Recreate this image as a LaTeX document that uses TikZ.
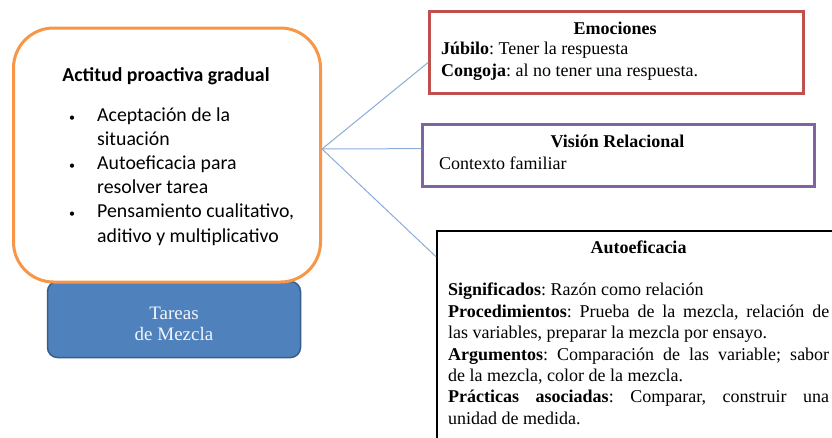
\documentclass[tikz,border=0pt]{standalone}
\usepackage{fontspec}
\setmainfont{Liberation Serif}
\newfontfamily\calibri{Carlito}
\usetikzlibrary{positioning}
\frenchspacing
\definecolor{Naranja}{HTML}{F79646}
\definecolor{Azul}{HTML}{4F81BD}
\definecolor{AzulBorde}{HTML}{385D8A}
\definecolor{Rojo}{HTML}{C0504D}
\definecolor{Morado}{HTML}{8064A2}
\definecolor{Linea}{HTML}{8AACD8}
\definecolor{Claro}{HTML}{F2F5FB}
\newcommand{\punto}{{\fontsize{12}{12}\selectfont\textbullet}}
\tikzset{
  marco/.style={rectangle,draw,line width=2.5pt,fill=white,inner sep=0pt},
  actitud/.style={marco,draw=Naranja,line width=3pt,rounded corners=40pt,minimum width=307pt,minimum height=254pt},
  tarea/.style={rectangle,draw=AzulBorde,line width=1.5pt,fill=Azul,rounded corners=10pt,minimum width=253pt,minimum height=76pt},
  rotulo/.style={text=Claro,font=\fontsize{19}{21}\selectfont,align=center,inner sep=0pt},
  rama/.style={draw=Linea,line width=1pt},
  encabezado/.style={font=\calibri\fontsize{19.8}{24.2}\selectfont\bfseries,inner sep=0pt,anchor=base},
  lista/.style={font=\calibri\fontsize{19.8}{24.2}\selectfont,inner sep=0pt,anchor=north west},
  titulo/.style={font=\fontsize{18}{22}\selectfont\bfseries,inner sep=0pt,anchor=base},
  texto/.style={font=\fontsize{18}{21.4}\selectfont,inner sep=0pt,align=left,anchor=north west}
}
\begin{document}
\begin{tikzpicture}[x=1pt,y=-1pt]
  \useasboundingbox (0,0) rectangle (832,437);
  \clip (0,0) rectangle (832,437);
  \node[tarea] (mezcla) at (174,319.5) {};
  \node[rotulo,yshift=-4pt] (tmezcla) at (mezcla.center) {Tareas\\de Mezcla};
  \node[actitud] (actitud) at (167,155) {};
  \node[encabezado] (tact) at (166,81) {Actitud proactiva gradual};
  \node[lista] (items) at (69,104) {\begin{tabular}{@{}p{28pt}@{}l@{}}
    \punto & Aceptación de la\\
           & situación\\
    \punto & Autoeficacia para\\
           & resolver tarea\\
    \punto & Pensamiento cualitativo,\\
           & aditivo y multiplicativo
  \end{tabular}};
  \coordinate (hub) at (322,149);
  \node[marco,draw=Rojo,minimum width=374pt,minimum height=82pt] (emo) at (616.5,52.5) {};
  \node[marco,draw=Morado,minimum width=392pt,minimum height=62pt] (vis) at (618.5,155.5) {};
  \node[marco,draw=black,line width=2pt,minimum width=403pt,minimum height=215pt] (auto) at (638.5,338.5) {};
  \draw[rama] (hub) -- (emo.183);
  \draw[rama] (hub) -- (vis.178);
  \draw[rama] (hub) -- (auto.158);
  \node[titulo] (temo) at (615,34) {Emociones};
  \node[texto] (cemo) at (441,42) {\textbf{Júbilo}: Tener la respuesta\\\textbf{Congoja}: al no tener una respuesta.};
  \node[titulo] (tvis) at (617.5,147) {Visión Relacional};
  \node[texto,anchor=base west] (cvis) at (439,169) {Contexto familiar};
  \node[titulo] (tauto) at (638.5,253) {Autoeficacia};
  \node[texto,text width=381pt,align=justify] (cauto) at (448,283) {\textbf{Significados}: Razón como relación\par
    \textbf{Procedimientos}: Prueba de la mezcla, relación de\linebreak las variables, preparar la mezcla por ensayo.\par
    \textbf{Argumentos}: Comparación de las variable; sabor\linebreak de la mezcla, color de la mezcla.\par
    \textbf{Prácticas asociadas}: Comparar, construir una\linebreak unidad de medida.};
\end{tikzpicture}
\end{document}
